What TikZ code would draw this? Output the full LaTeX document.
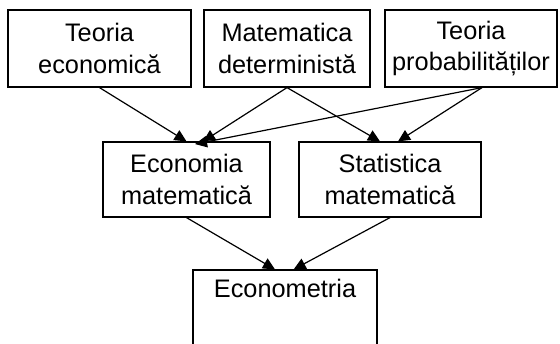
\documentclass[tikz,border=0pt]{standalone}
\usepackage{fontspec}
\setmainfont{Liberation Sans}
\usetikzlibrary{arrows.meta}

\tikzset{
    box/.style={draw,line width=0.9pt,align=center,inner sep=0pt,minimum height=57.75pt,font=\fontsize{19}{23.5}\selectfont},
    arr/.style={line width=0.9pt,-{Triangle[length=9pt,width=8.5pt]}}
}

\begin{document}
\begin{tikzpicture}[x=0.75pt,y=-0.75pt]
    \clip (0,0) rectangle (560,343);
    \node[box,minimum width=137.25pt] (te) at (99.5,48.5) {Teoria\\economică};
    \node[box,minimum width=124.5pt] (md) at (287,48.5) {Matematica\\deterministă};
    \node[box,minimum width=129pt] (tp) at (471,48.5) {Teoria\\probabilităților};
    \node[box,minimum width=125.25pt,minimum height=56.25pt] (em) at (186.5,179.5) {Economia\\matematică};
    \node[box,minimum width=136.5pt,minimum height=56.25pt] (sm) at (390,179.5) {Statistica\\matematică};
    \node[box,minimum width=138pt] (ec) at (285,308.5) {Econometria\\\strut};
    \draw[arr] (te.south) -- (em.north);
    \draw[arr] (md.south) -- ([xshift=12.4pt]em.north);
    \draw[arr] ([xshift=8.25pt]tp.south) -- ([xshift=6.4pt,yshift=-2pt]em.north);
    \draw[arr] (md.south) -- ([xshift=-7.5pt]sm.north);
    \draw[arr] ([xshift=8.25pt]tp.south) -- ([xshift=6pt]sm.north);
    \draw[arr] (em.south) -- ([xshift=-7.5pt]ec.north);
    \draw[arr] (sm.south) -- ([xshift=6.5pt]ec.north);
\end{tikzpicture}
\end{document}
